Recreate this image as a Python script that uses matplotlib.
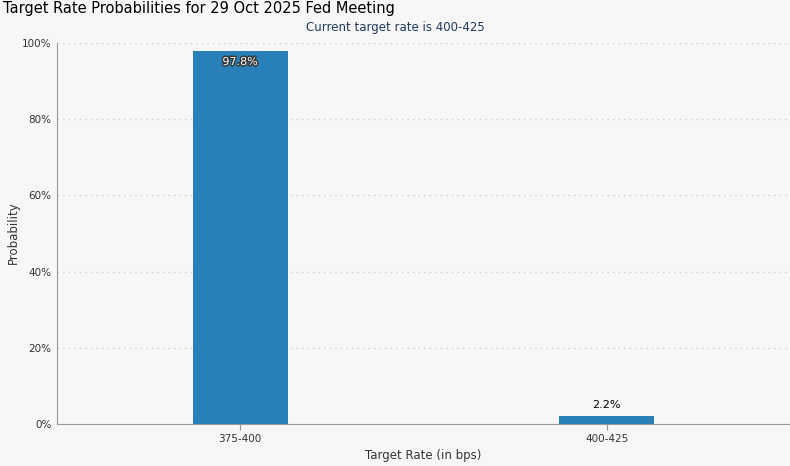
import matplotlib
matplotlib.use("Agg")
import matplotlib.pyplot as plt
import matplotlib.patheffects as pe

categories = ["375-400", "400-425"]
probs = [97.8, 2.2]
yticks = [0, 20, 40, 60, 80, 100]

bg = "#f7f7f7"
fig = plt.figure(figsize=(7.9, 4.66), dpi=100, facecolor=bg)
ax = fig.add_axes([57/790, 1-424/466, 733/790, 381/466], facecolor=bg)

x = range(len(categories))
ax.bar(x, probs, width=0.26, color="#2980b9", zorder=3)
ax.set_xlim(-0.5, 1.5)
ax.set_ylim(0, 100)
ax.set_yticks(yticks)
ax.set_yticklabels([f"{v}%" for v in yticks], fontsize=7.5, color="#333333")
ax.set_xticks(list(x))
ax.set_xticklabels(categories, fontsize=7.5, color="#333333")
ax.tick_params(axis="y", length=0, pad=4)
ax.tick_params(axis="x", length=4, color="#999999")
ax.grid(axis="y", color="#cccccc", linestyle=(0, (1, 3)), linewidth=1, zorder=0)
for s in ["top", "right"]:
    ax.spines[s].set_visible(False)
ax.spines["left"].set_color("#999999")
ax.spines["bottom"].set_color("#999999")

for i, v in enumerate(probs):
    if v > 10:
        ax.text(i, v - 1.5, f"{v}%", ha="center", va="top", fontsize=8, color="white",
                path_effects=[pe.withStroke(linewidth=2, foreground="#333333")], zorder=4)
    else:
        ax.text(i, v + 1.5, f"{v}%", ha="center", va="bottom", fontsize=8, color="black", zorder=4)

fig.text(423/790, 1-455/466, "Target Rate (in bps)", fontsize=8.5, color="#333333",
         ha="center", va="center")
fig.text(13/790, 1-233/466, "Probability", fontsize=8.5, color="#333333",
         ha="center", va="center", rotation=90)
fig.text(3/790, 1-9/466, "Target Rate Probabilities for 29 Oct 2025 Fed Meeting",
         fontsize=10.5, ha="left", va="center", color="black")
fig.text(395/790, 1-28/466, "Current target rate is 400-425",
         fontsize=8.5, ha="center", va="center", color="#1f3a60")

fig.savefig("out.png", dpi=100, facecolor=bg)
